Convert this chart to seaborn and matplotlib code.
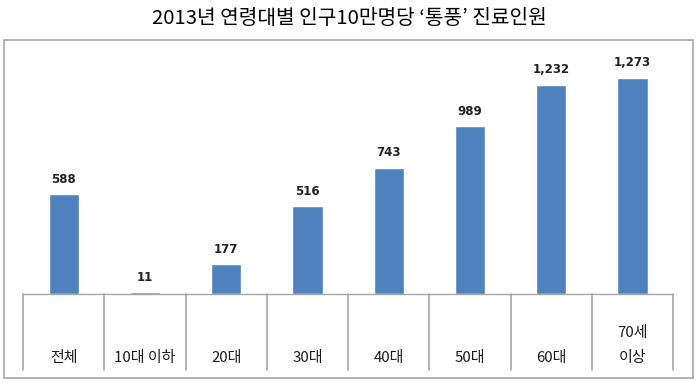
import matplotlib
matplotlib.use("Agg")
import matplotlib.pyplot as plt
import seaborn as sns
import pandas as pd
from matplotlib.patches import Rectangle

# data
categories = ["전체", "10대 이하", "20대", "30대", "40대", "50대", "60대", "70세\n이상"]
patients = [588, 11, 177, 516, 743, 989, 1232, 1273]
title = "2013년 연령대별 인구10만명당 ‘통풍’ 진료인원"

BAR_COLOR = "#4F81BD"
GRID_GRAY = "#A6A6A6"

sns.set_style("white")
plt.rcParams["font.family"] = ["Noto Sans CJK KR", "DejaVu Sans"]

df = pd.DataFrame({"age": categories, "count": patients})

fig = plt.figure(figsize=(6.99, 3.83), dpi=100)
ax = fig.add_axes([0.033, 0.2324, 0.930, 0.6658])

sns.barplot(data=df, x="age", y="count", color=BAR_COLOR, width=0.37,
            saturation=1, ax=ax)
ax.set_ylim(0, 1500)
ax.set_xlim(-0.5, len(categories) - 0.5)

for c in ax.containers:
    ax.bar_label(c, labels=[f"{v:,}" for v in patients], padding=6,
                 fontsize=8.5, fontweight="bold", color="#222222",
                 family="DejaVu Sans")

# axis cosmetics
for s in ["top", "left", "right"]:
    ax.spines[s].set_visible(False)
ax.spines["bottom"].set_color(GRID_GRAY)
ax.spines["bottom"].set_linewidth(1.0)
ax.set_yticks([])
ax.set_xticks([])
ax.set_xlabel("")
ax.set_ylabel("")

# category cells below the baseline
tr = ax.get_xaxis_transform()
cell_depth = 76 / 255
for b in range(len(categories) + 1):
    ax.plot([b - 0.5, b - 0.5], [0, -cell_depth], transform=tr,
            color=GRID_GRAY, lw=1.2, clip_on=False)
for i, lab in enumerate(categories):
    ax.text(i, -0.278, lab, transform=tr, ha="center",
            va="bottom", fontsize=10.8, color="#1a1a1a", linespacing=2.0)

# outer frame and title
fig.patches.append(Rectangle((4 / 699, 1 - 378 / 383), 689 / 699, 338 / 383,
                             transform=fig.transFigure, fill=False,
                             edgecolor=GRID_GRAY, lw=1.2))
fig.text(0.5, 1 - 18 / 383, title, ha="center", va="center", fontsize=14.6,
         color="black")

fig.savefig("out.png", dpi=100)
